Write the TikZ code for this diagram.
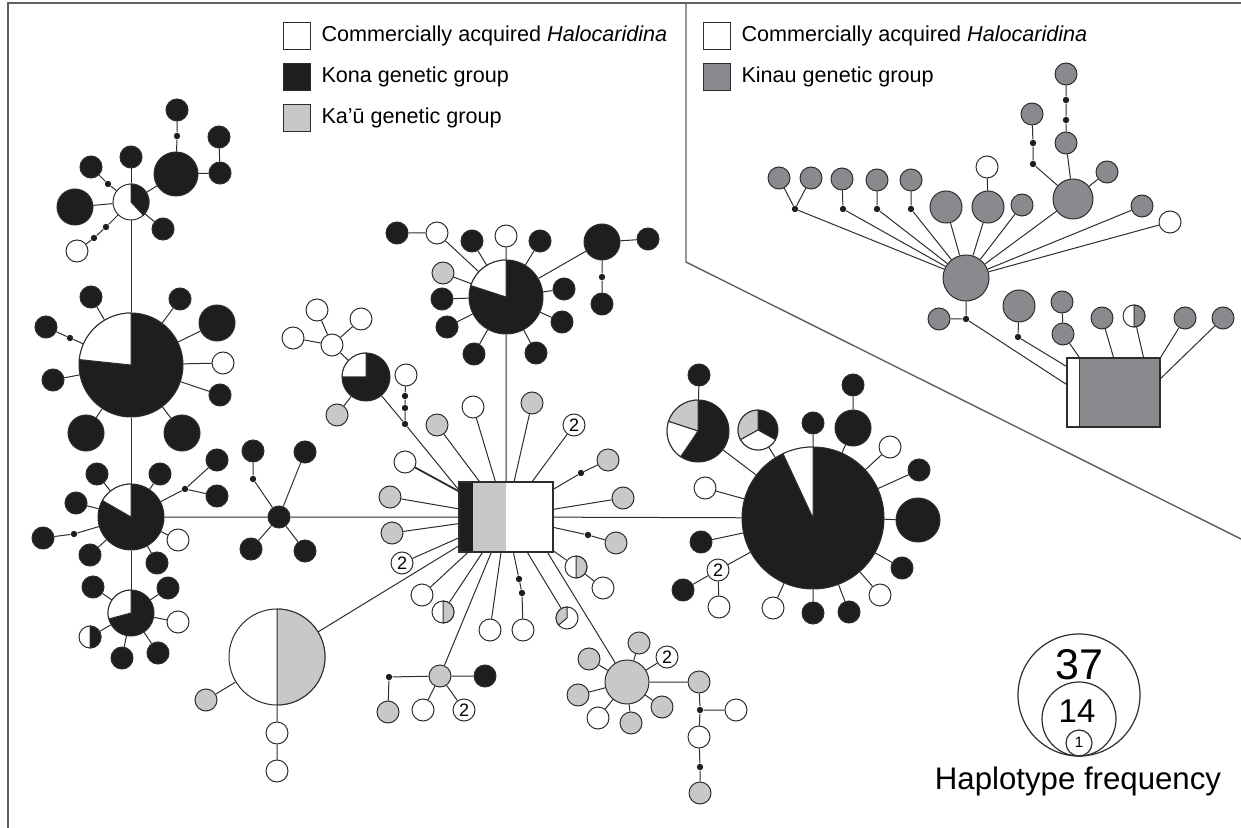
\documentclass[tikz,border=0pt]{standalone}
\usepackage{fontspec}
\setmainfont{Liberation Sans}
\usetikzlibrary{positioning}
\definecolor{konac}{RGB}{32,29,30}
\definecolor{kauc}{RGB}{199,200,202}
\definecolor{kinc}{RGB}{137,138,141}
\definecolor{edgec}{RGB}{45,45,45}
\definecolor{framec}{RGB}{95,95,95}
% pie slice: node, radius, start, end, colour
\newcommand{\slc}[5]{\filldraw[fill=#5,draw=edgec,line width=0.5pt] (#1.center) -- ++(#3:#2) arc[start angle=#3,end angle=#4,radius=#2] -- cycle;}
\begin{document}
\begin{tikzpicture}[x=0.5pt,y=-0.5pt,
 hap/.style={circle,draw=edgec,line width=0.5pt,inner sep=0pt,minimum size=11pt},
 kon/.style={hap,fill=konac},kau/.style={hap,fill=kauc},com/.style={hap,fill=white},kin/.style={hap,fill=kinc},
 mv/.style={circle,fill=konac,inner sep=0pt,minimum size=3.2pt},
 sz/.style={minimum size=#1pt},
 two/.style={com,font=\fontsize{9}{9}\selectfont},
 lsq/.style={draw=edgec,line width=0.6pt,minimum size=13.5pt,inner sep=0pt},
 lt/.style={font=\fontsize{10.8}{12}\selectfont,inner sep=0pt},
 ed/.style={draw=edgec,line width=0.5pt}]
\useasboundingbox (0,0) rectangle (1241,828);
\draw[framec,line width=0.9pt] (8,828)--(8,3)--(1241,3);
\draw[framec,line width=0.7pt] (686,3)--(686,262)--(1241,539);
% legend
\node[lsq,fill=white](lc) at (297,36){};
\node[lt,right=5pt of lc]{Commercially acquired \textit{Halocaridina}};
\node[lsq,fill=konac](lk) at (297,77){};
\node[lt,right=5pt of lk]{Kona genetic group};
\node[lsq,fill=kauc](la) at (297,118){};
\node[lt,right=5pt of la]{Ka{\char"27}ū genetic group};
\node[lsq,fill=white](rc) at (717,36){};
\node[lt,right=5pt of rc]{Commercially acquired \textit{Halocaridina}};
\node[lsq,fill=kinc](rk) at (717,77){};
\node[lt,right=5pt of rk]{Kinau genetic group};
% top left
\node[com,sz=18](a0) at (131,202){};\slc{a0}{18}{-90}{47}{konac}
\node[kon](a1) at (131,157){};\node[kon,sz=18](a2) at (75,207){};
\node[mv](a3m) at (108,184){};\node[kon](a3) at (91,167){};
\node[mv](a4m) at (106,227){};\node[mv](a4n) at (94,238){};\node[com](a4) at (77,251){};
\node[kon](a5) at (163,229){};\node[kon,sz=22](a6) at (176,174){};
\node[mv](a7m) at (177,136){};\node[kon](a7) at (177,110){};
\node[kon](a8) at (220,173){};\node[kon](a9) at (219,137){};
% big left pie
\node[kon,sz=52](b0) at (131,365){};\slc{b0}{52}{186}{270}{white}
\node[kon](b1) at (91,297){};\node[mv](b2m) at (70,338){};\node[kon](b2) at (46,327){};
\node[kon](b3) at (53,380){};\node[kon,sz=18](b4) at (86,433){};\node[kon,sz=18](b5) at (182,433){};
\node[kon](b6) at (180,299){};\node[kon,sz=18](b7) at (217,323){};
\node[com](b8) at (223,363){};\node[kon](b9) at (220,395){};
% middle left
\node[kon,sz=33](c0) at (131,517){};\slc{c0}{33}{210}{270}{white}
\node[kon](c1) at (97,474){};\node[kon](c2) at (160,474){};\node[kon](c3) at (76,503){};
\node[mv](c4m) at (74,534){};\node[kon](c4) at (43,538){};
\node[kon](c5) at (90,555){};\node[kon](c6) at (157,563){};\node[com](c7) at (178,540){};
\node[mv](c8m) at (185,489){};\node[kon](c8a) at (217,460){};\node[kon](c8b) at (217,496){};
\node[kon,sz=23](d0) at (131,613){};\slc{d0}{23}{165}{270}{white}
\node[kon](d1) at (93,587){};\node[kon](d2) at (168,588){};\node[com](d3) at (178,622){};
\node[com](d4) at (90,637){};\slc{d4}{11}{-90}{90}{konac}
\node[kon](d5) at (122,658){};\node[kon](d6) at (158,653){};
% star
\node[kon](s0) at (279,517){};\node[mv](s1m) at (253,479){};\node[kon](s1) at (253,451){};
\node[kon](s2) at (305,452){};\node[kon](s3) at (251,549){};\node[kon](s4) at (305,551){};
% central haplotype
\fill[konac] (459,482) rectangle (473,552);
\fill[kauc] (473,482) rectangle (506,552);
\node[draw=edgec,line width=0.6pt,minimum width=47pt,minimum height=35pt,inner sep=0pt](core) at (506,517){};
% top pie
\node[kon,sz=37](t0) at (506,297){};\slc{t0}{37}{198}{270}{white}
\node[com](t1) at (506,236){};\node[kon](t2) at (472,241){};\node[kon](t3) at (540,241){};
\node[com](t4) at (437,233){};\node[kon](t4b) at (397,233){};\node[kau](t5) at (443,273){};
\node[kon](t6) at (442,299){};\node[kon](t7) at (447,327){};\node[kon](t8) at (474,354){};
\node[kon](t9) at (536,353){};\node[kon](t10) at (564,289){};\node[kon](t11) at (562,322){};
\node[kon,sz=18](t12) at (602,242){};\node[kon](t13) at (648,239){};
\node[mv](t14m) at (602,277){};\node[kon](t15) at (602,304){};
% small pie
\node[kon,sz=24](u0) at (366,377){};\slc{u0}{24}{180}{270}{white}
\node[com](u1) at (332,345){};\node[com](u2) at (317,310){};\node[com](u3) at (361,319){};
\node[com](u4) at (293,338){};\node[kau](u5) at (337,415){};
% around the centre
\node[com](m1) at (406,375){};\node[mv](mv2) at (405,396){};\node[mv](mv1) at (405,408){};\node[mv](mj) at (405,424){};
\node[kau](m2) at (437,425){};\node[com](m3) at (473,407){};\node[kau](m4) at (532,403){};
\node[two](m5) at (574,425){2};
\node[mv](m6m) at (581,473){};\node[kau](m6) at (608,460){};\node[kau](m7) at (623,498){};
\node[mv](m8m) at (588,535){};\node[kau](m8) at (616,543){};
\node[com](m9) at (576,567){};\slc{m9}{11}{-90}{90}{kauc}\node[com](m9b) at (603,588){};
\node[com](m10) at (405,462){};\node[kau](m11) at (390,497){};\node[kau](m12) at (392,533){};
\node[two](m13) at (402,563){2};\node[com](m14) at (422,595){};
\node[com](m15) at (443,612){};\slc{m15}{11}{-90}{90}{kauc}
\node[com](m16) at (490,630){};
\node[mv](m17m) at (519,579){};\node[mv](m17n) at (522,593){};\node[com](m17) at (523,630){};
\node[com](m18) at (567,618){};\slc{m18}{11}{140}{270}{kauc}
% lower left half pie
\node[com,sz=48](h0) at (277,657){};\slc{h0}{48}{-90}{90}{kauc}
\node[kau](h1) at (206,700){};\node[com](h2) at (277,733){};\node[com](h3) at (277,771){};
\node[kau](g0) at (440,676){};\node[mv](g1m) at (389,677){};\node[kau](g1) at (388,712){};
\node[kon](g2) at (485,676){};\node[com](g3) at (423,710){};\node[two](g4) at (464,710){2};
% lower gray hub
\node[kau,sz=22](q0) at (627,682){};
\node[kau](q1) at (639,643){};\node[kau](q2) at (589,659){};\node[two](q3) at (667,657){2};
\node[kau](q4) at (578,695){};\node[com](q5) at (598,718){};\node[kau](q6) at (631,723){};
\node[kau](q7) at (662,707){};\node[kau](q8) at (699,682){};
\node[mv](q9m) at (700,710){};\node[com](q9) at (736,710){};\node[com](q10) at (699,737){};
\node[mv](q11m) at (700,767){};\node[kau](q11) at (700,793){};
% right big pie
\node[kon,sz=71](r0) at (813,518){};\slc{r0}{71}{245}{270}{white}
\node[kon](r1) at (813,423){};\node[kon,sz=18](r2) at (853,428){};\node[kon](r2b) at (853,385){};
\node[com](r3) at (890,447){};\node[kon](r4) at (919,470){};\node[kon,sz=22](r5) at (918,520){};
\node[kon](r6) at (902,568){};\node[com](r7) at (880,595){};\node[kon](r8) at (849,612){};
\node[kon](r9) at (813,613){};\node[com](r10) at (773,608){};
\node[two](r11) at (718,570){2};\node[kon](r11a) at (683,590){};\node[com](r11b) at (719,607){};
\node[kon](r12) at (701,542){};\node[com](r13) at (705,488){};
\node[kon,sz=31](r14) at (698,431){};\slc{r14}{31}{198}{270}{kauc}\slc{r14}{31}{124}{198}{white}
\node[kon](r14b) at (699,375){};
\node[kon,sz=20](r15) at (758,430){};\slc{r15}{20}{151}{270}{kauc}\slc{r15}{20}{29}{151}{white}
% Kinau network
\node[kin,sz=23](k0) at (966,278){};
\node[kin](k1) at (779,178){};\node[kin](k2) at (811,178){};\node[mv](k1m) at (795,209){};
\node[kin](k3) at (842,179){};\node[mv](k3m) at (843,209){};
\node[kin](k4) at (877,180){};\node[mv](k4m) at (877,209){};
\node[kin](k5) at (911,180){};\node[mv](k5m) at (911,209){};
\node[kin,sz=16](k6) at (946,207){};\node[kin,sz=16](k7) at (988,207){};\node[com](k7b) at (987,167){};
\node[kin](k8) at (1022,205){};\node[kin,sz=20](k9) at (1073,199){};
\node[kin](k10) at (1066,143){};\node[mv](k10m) at (1066,120){};\node[mv](k10n) at (1066,100){};\node[kin](k11) at (1066,74){};
\node[mv](k12m) at (1033,164){};\node[mv](k12n) at (1033,143){};\node[kin](k12) at (1032,114){};
\node[kin](k13) at (1107,172){};\node[kin](k14) at (1142,206){};\node[com](k15) at (1170,222){};
\node[mv](k16m) at (966,319){};\node[kin](k16) at (939,319){};
\node[kin,sz=16](k17) at (1019,306){};\node[mv](k17m) at (1018,337){};
\node[kin](k18) at (1062,302){};\node[kin](k19) at (1063,334){};\node[kin](k20) at (1102,318){};
\node[com](k21) at (1134,316){};\slc{k21}{11}{-90}{90}{kinc}
\node[kin](k22) at (1185,318){};\node[kin](k23) at (1223,318){};
\fill[kinc] (1079,358) rectangle (1160,427);
\node[draw=edgec,line width=0.6pt,minimum width=46.5pt,minimum height=34.5pt,inner sep=0pt](kcore) at (1113.5,392.5){};
\draw[ed] (1079,358)--(1079,427);
% connectors
\draw[ed](a1)--(a0)--(b0)--(c0)--(d0);
\draw[ed](a0)--(a2) (a0)--(a3m)--(a3) (a0)--(a4m)--(a4n)--(a4) (a0)--(a5) (a0)--(a6)--(a7m)--(a7) (a6)--(a8)--(a9);
\draw[ed](b0)--(b1) (b0)--(b2m)--(b2) (b0)--(b3) (b0)--(b4) (b0)--(b5) (b0)--(b6) (b0)--(b7) (b0)--(b8) (b0)--(b9);
\draw[ed](c0)--(c1) (c0)--(c2) (c0)--(c3) (c0)--(c4m)--(c4) (c0)--(c5) (c0)--(c6) (c0)--(c7) (c0)--(c8m)--(c8a) (c8m)--(c8b);
\draw[ed](d0)--(d1) (d0)--(d2) (d0)--(d3) (d0)--(d4) (d0)--(d5) (d0)--(d6);
\draw[ed](c0)--(s0)--(core) (s0)--(s1m)--(s1) (s0)--(s2) (s0)--(s3) (s0)--(s4);
\draw[ed](t1)--(t0)--(core) (t0)--(t2) (t0)--(t3) (t0)--(t4)--(t4b) (t0)--(t5) (t0)--(t6) (t0)--(t7) (t0)--(t8) (t0)--(t9) (t0)--(t10) (t0)--(t11) (t0)--(t12)--(t13) (t12)--(t14m)--(t15);
\draw[ed](u0)--(u1)--(u2) (u1)--(u3) (u1)--(u4) (u0)--(u5) (u0)--(mj)--([yshift=-4pt]core.north west) (mj)--(mv1)--(mv2)--(m1);
\draw[ed](m2)--(core) (m3)--(core) (m4)--(core) (m5)--(core) (m6)--(m6m)--(core) (m7)--(core) (m8)--(m8m)--(core) (m9b)--(m9)--(core) (m11)--(core) (m12)--(core) (m13)--(core) (m14)--(core) (m15)--(core) (m16)--(core) (m17)--(m17n)--(m17m)--(core) (m18)--(core) (h0)--(core) (g0)--(core) (q0)--([xshift=-3pt]core.south east);
\draw[ed,line width=0.9pt](m10)--(core);
\draw[ed](h0)--(h1) (h0)--(h2)--(h3);
\draw[ed](g0)--(g1m)--(g1) (g0)--(g2) (g0)--(g3) (g0)--(g4);
\draw[ed](q0)--(q1) (q0)--(q2) (q0)--(q3) (q0)--(q4) (q0)--(q5) (q0)--(q6) (q0)--(q7) (q0)--(q8)--(q9m)--(q10)--(q11m)--(q11) (q9m)--(q9);
\draw[ed](core)--(r0) (r0)--(r1) (r0)--(r2)--(r2b) (r0)--(r3) (r0)--(r4) (r0)--(r5) (r0)--(r6) (r0)--(r7) (r0)--(r8) (r0)--(r9) (r0)--(r10) (r0)--(r11)--(r11a) (r11)--(r11b) (r0)--(r12) (r0)--(r13) (r0)--(r14)--(r14b) (r0)--(r15);
\draw[ed](k0)--(k1m)--(k1) (k1m)--(k2) (k0)--(k3m)--(k3) (k0)--(k4m)--(k4) (k0)--(k5m)--(k5) (k0)--(k6) (k0)--(k7)--(k7b) (k0)--(k8) (k0)--(k9)--(k10)--(k10m)--(k10n)--(k11) (k9)--(k12m)--(k12n)--(k12) (k9)--(k13) (k0)--(k14) (k0)--(k15);
\draw[ed](k0)--(k16m)--(k16) (k16m)--([yshift=-13.5pt]kcore.north west) (k17)--(k17m)--([yshift=-4.5pt]kcore.north west) (k18)--(k19)--([xshift=6.5pt]kcore.north west) (k20)--(kcore.north) (k21)--([xshift=15pt]kcore.north) (k22)--(kcore.north east) (k23)--([yshift=7pt]kcore.east);
% frequency scale
\node[circle,draw=edgec,line width=0.6pt,inner sep=0pt,minimum size=61pt](f37) at (1079,695){};
\node[circle,draw=edgec,line width=0.6pt,inner sep=0pt,minimum size=37pt](f14) at (1079,719){};
\node[circle,draw=edgec,line width=0.6pt,inner sep=0pt,minimum size=13pt](f1) at (1079,743){};
\node[font=\fontsize{21.5}{22}\selectfont,inner sep=0pt] at (1079,665){37};
\node[font=\fontsize{16.5}{17}\selectfont,inner sep=0pt] at (1077,711){14};
\node[font=\fontsize{7.5}{8}\selectfont,inner sep=0pt] at (1079,742){1};
\node[font=\fontsize{15.6}{16}\selectfont,inner sep=0pt] at (1078,781){Haplotype frequency};
\end{tikzpicture}
\end{document}
